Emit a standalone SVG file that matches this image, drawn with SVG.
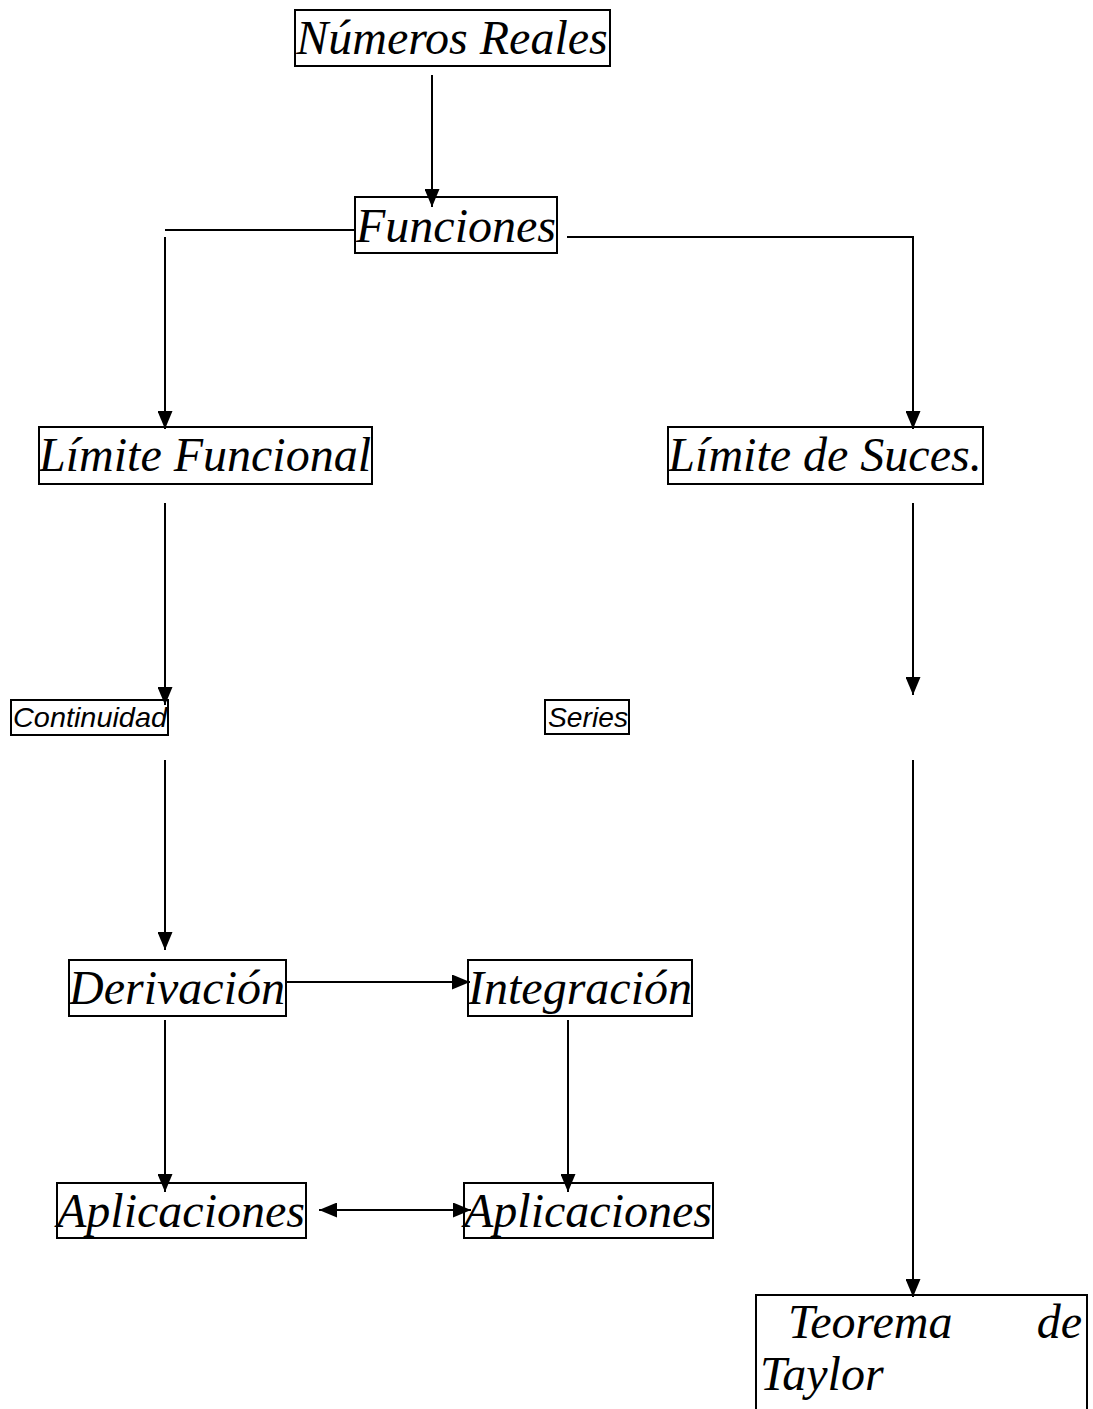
<svg xmlns="http://www.w3.org/2000/svg" width="1093" height="1409" viewBox="0 0 1093 1409">
<defs>
<style>
.box{fill:#fff;stroke:#000;stroke-width:2}
.t{font-family:"Liberation Serif","Times New Roman",serif;font-style:italic;font-size:48px;fill:#000}
.s{font-family:"Liberation Sans",Arial,sans-serif;font-style:italic;font-size:28px;fill:#000}
.c{fill:none;stroke:#000;stroke-width:2}
</style>
<marker id="ah" viewBox="0 0 18 15" refX="18" refY="7.5" markerWidth="18" markerHeight="15" markerUnits="userSpaceOnUse" orient="auto-start-reverse">
<path d="M0,0 L18,7.5 L0,15 z" fill="#000"/>
</marker>
</defs>
<rect width="1093" height="1409" fill="#fff"/>
<g id="n-numeros">
<rect class="box" x="295" y="10" width="315" height="56"/>
<text class="t" x="452" y="54" text-anchor="middle">Números Reales</text>
</g>
<g id="n-funciones">
<rect class="box" x="355" y="197" width="202" height="56"/>
<text class="t" x="456" y="242" text-anchor="middle">Funciones</text>
</g>
<g id="n-limfun">
<rect class="box" x="39" y="427" width="333" height="57"/>
<text class="t" x="205" y="471" text-anchor="middle">Límite Funcional</text>
</g>
<g id="n-limsuc">
<rect class="box" x="668" y="427" width="315" height="57"/>
<text class="t" x="825" y="471" text-anchor="middle">Límite de Suces.</text>
</g>
<g id="n-continuidad">
<rect class="box" x="11" y="700" width="157" height="35"/>
<text class="s" x="13" y="727" textLength="154" lengthAdjust="spacingAndGlyphs">Continuidad</text>
</g>
<g id="n-series">
<rect class="box" x="545" y="700" width="84" height="34"/>
<text class="s" x="548" y="727" textLength="80" lengthAdjust="spacingAndGlyphs">Series</text>
</g>
<g id="n-derivacion">
<rect class="box" x="69" y="960" width="217" height="56"/>
<text class="t" x="177" y="1004" text-anchor="middle">Derivación</text>
</g>
<g id="n-integracion">
<rect class="box" x="468" y="960" width="224" height="56"/>
<text class="t" x="580" y="1004" text-anchor="middle">Integración</text>
</g>
<g id="n-aplic1">
<rect class="box" x="57" y="1183" width="249" height="55"/>
<text class="t" x="181" y="1227" text-anchor="middle">Aplicaciones</text>
</g>
<g id="n-aplic2">
<rect class="box" x="464" y="1183" width="249" height="55"/>
<text class="t" x="588" y="1227" text-anchor="middle">Aplicaciones</text>
</g>
<g id="n-taylor">
<rect class="box" x="756" y="1295" width="331" height="130"/>
<text class="t"><tspan x="788" y="1338">Teorema</tspan><tspan x="1082" y="1338" text-anchor="end">de</tspan><tspan x="760" y="1390">Taylor</tspan></text>
</g>
<g id="connectors">
<line class="c" x1="432" y1="75" x2="432" y2="207" marker-end="url(#ah)"/>
<line class="c" x1="165" y1="230" x2="355" y2="230"/>
<line class="c" x1="165" y1="237" x2="165" y2="429" marker-end="url(#ah)"/>
<polyline class="c" points="567,237 913,237 913,429" marker-end="url(#ah)"/>
<line class="c" x1="165" y1="503" x2="165" y2="705" marker-end="url(#ah)"/>
<line class="c" x1="913" y1="503" x2="913" y2="695" marker-end="url(#ah)"/>
<line class="c" x1="165" y1="760" x2="165" y2="950" marker-end="url(#ah)"/>
<line class="c" x1="913" y1="760" x2="913" y2="1297" marker-end="url(#ah)"/>
<line class="c" x1="286" y1="982" x2="470" y2="982" marker-end="url(#ah)"/>
<line class="c" x1="165" y1="1020" x2="165" y2="1192" marker-end="url(#ah)"/>
<line class="c" x1="568" y1="1020" x2="568" y2="1192" marker-end="url(#ah)"/>
<line class="c" x1="319" y1="1210" x2="471" y2="1210" marker-start="url(#ah)" marker-end="url(#ah)"/>
</g>
</svg>
